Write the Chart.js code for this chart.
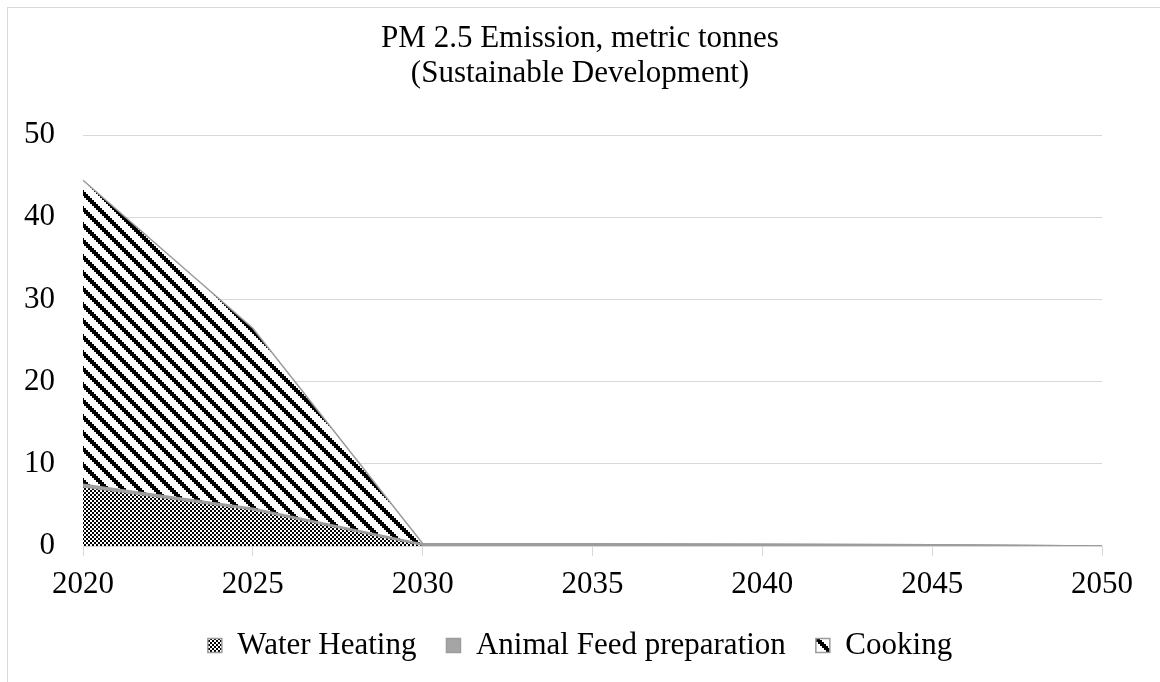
<!DOCTYPE html>
<html>
<head>
<meta charset="utf-8">
<script src="https://cdn.jsdelivr.net/npm/chart.js@4/dist/chart.umd.min.js"></script>
<style>
  html, body { margin: 0; padding: 0; background: #fff; }
  #wrap { width: 1160px; height: 682px; position: relative; }
</style>
</head>
<body>
<div id="wrap"><canvas id="c"></canvas></div>
<script>
// Years on the category axis
const years = ['2020', '2025', '2030', '2035', '2040', '2045', '2050'];
// PM 2.5 emission per end use, metric tonnes
const waterHeating = [7.2, 4.4, 0.1, 0.1, 0.1, 0.05, 0];
const animalFeed   = [0.3, 0.2, 0.15, 0.15, 0.1, 0.1, 0];
const cooking      = [37.0, 21.9, 0.05, 0.02, 0.02, 0.01, 0];
// Value axis range
const yMin = 0, yMax = 50, yStep = 10;

const FONT = '"Liberation Serif", "Times New Roman", serif';
const canvas = document.getElementById('c');
const ctx = canvas.getContext('2d');

// Small checkerboard fill (2px cells)
function checkerPattern() {
  const t = document.createElement('canvas');
  t.width = 4; t.height = 4;
  const g = t.getContext('2d');
  g.fillStyle = '#fff'; g.fillRect(0, 0, 4, 4);
  g.fillStyle = '#000';
  g.fillRect(0, 0, 2, 2);
  g.fillRect(2, 2, 2, 2);
  return ctx.createPattern(t, 'repeat');
}

// Wide downward diagonal stripes
function stripePattern() {
  const t = document.createElement('canvas');
  t.width = 16; t.height = 16;
  const g = t.getContext('2d');
  g.fillStyle = '#fff'; g.fillRect(0, 0, 16, 16);
  g.fillStyle = '#000';
  for (let by = 0; by < 8; by++) {
    for (let bx = 0; bx < 8; bx++) {
      if (((bx - by + 8) % 8) < 3) g.fillRect(bx * 2, by * 2, 2, 2);
    }
  }
  return ctx.createPattern(t, 'repeat');
}

// White page with a thin outer frame
const frame = {
  id: 'frame',
  beforeDraw(chart) {
    const c = chart.ctx;
    c.save();
    c.fillStyle = '#fff';
    c.fillRect(0, 0, chart.width, chart.height);
    c.strokeStyle = '#d9d9d9';
    c.lineWidth = 1;
    c.strokeRect(7.5, 7.5, chart.width + 10, chart.height + 10);
    c.restore();
  }
};

const lineGray = '#9c9c9c';

new Chart(ctx, {
  type: 'line',
  data: {
    labels: years,
    datasets: [
      {
        label: 'Water Heating',
        data: waterHeating,
        backgroundColor: checkerPattern(),
        borderColor: lineGray,
        borderWidth: 1.5,
        fill: 'origin',
        pointRadius: 0,
        tension: 0
      },
      {
        label: 'Animal Feed preparation',
        data: animalFeed,
        backgroundColor: '#a5a5a5',
        borderColor: lineGray,
        borderWidth: 1.5,
        fill: '-1',
        pointRadius: 0,
        tension: 0
      },
      {
        label: 'Cooking',
        data: cooking,
        backgroundColor: stripePattern(),
        borderColor: lineGray,
        borderWidth: 1.5,
        fill: '-1',
        pointRadius: 0,
        tension: 0
      }
    ]
  },
  options: {
    responsive: true,
    maintainAspectRatio: false,
    animation: false,
    events: [],
    layout: { padding: { left: 0, right: 0, top: 0, bottom: 11 } },
    plugins: {
      tooltip: { enabled: false },
      title: {
        display: true,
        text: ['PM 2.5 Emission, metric tonnes', '(Sustainable Development)'],
        color: '#000',
        font: { family: FONT, size: 31, weight: 'normal', lineHeight: 1.13 },
        padding: { top: 21.5, bottom: 43.5 }
      },
      legend: {
        display: true,
        position: 'bottom',
        labels: {
          color: '#000',
          font: { family: FONT, size: 31 },
          boxWidth: 14,
          boxHeight: 14,
          padding: 30
        }
      }
    },
    scales: {
      x: {
        type: 'category',
        offset: false,
        grid: {
          display: true,
          drawOnChartArea: false,
          drawTicks: true,
          tickLength: 10,
          color: '#d9d9d9'
        },
        border: { display: true, color: '#d9d9d9', width: 1 },
        ticks: {
          color: '#000',
          font: { family: FONT, size: 31 },
          padding: 10,
          maxRotation: 0,
          autoSkip: false
        },
        afterFit(scale) { scale.height = 54; }
      },
      y: {
        stacked: true,
        min: yMin,
        max: yMax,
        grid: { color: '#d9d9d9', drawTicks: false },
        border: { display: false },
        ticks: {
          stepSize: yStep,
          color: '#000',
          font: { family: FONT, size: 31 },
          padding: 28
        },
        afterFit(scale) { scale.width = 83; }
      },
      // empty right-hand margin so the plot ends at 2050 while title and legend stay centred on the page
      margin: {
        type: 'linear',
        position: 'right',
        display: true,
        grid: { display: false },
        border: { display: false },
        ticks: { display: false },
        afterFit(scale) { scale.width = 58; }
      }
    }
  },
  plugins: [frame]
});
</script>
</body>
</html>
